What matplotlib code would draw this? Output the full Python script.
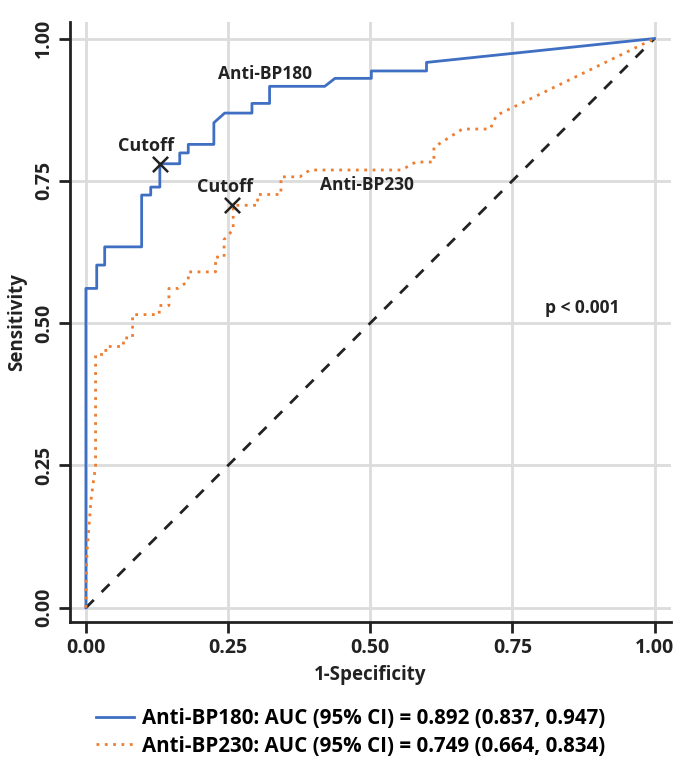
import matplotlib
matplotlib.use("Agg")
import matplotlib.pyplot as plt

# ROC curve vertices (1-specificity, sensitivity)
bp180_fpr = [0, 0, 0.019, 0.019, 0.033, 0.033, 0.098, 0.098, 0.114, 0.114, 0.130, 0.130,
             0.165, 0.165, 0.180, 0.180, 0.225, 0.225, 0.244, 0.292, 0.292, 0.323, 0.323,
             0.420, 0.438, 0.502, 0.502, 0.599, 0.599, 1.0]
bp180_tpr = [0, 0.561, 0.561, 0.602, 0.602, 0.634, 0.634, 0.725, 0.725, 0.739, 0.739, 0.780,
             0.780, 0.799, 0.799, 0.814, 0.814, 0.852, 0.869, 0.869, 0.886, 0.886, 0.916,
             0.916, 0.930, 0.930, 0.943, 0.943, 0.958, 1.0]

bp230_fpr = [0, 0, 0.002, 0.009, 0.017, 0.017, 0.035, 0.035, 0.066, 0.066, 0.082, 0.082,
             0.129, 0.129, 0.146, 0.146, 0.162, 0.180, 0.180, 0.228, 0.228, 0.243, 0.243,
             0.259, 0.259, 0.302, 0.302, 0.343, 0.343, 0.376, 0.394, 0.555, 0.580, 0.612,
             0.612, 0.662, 0.711, 0.722, 1.0]
bp230_tpr = [0, 0.04, 0.10, 0.19, 0.25, 0.445, 0.445, 0.459, 0.459, 0.474, 0.474, 0.515,
             0.515, 0.531, 0.531, 0.561, 0.561, 0.574, 0.590, 0.590, 0.616, 0.616, 0.647,
             0.664, 0.707, 0.707, 0.726, 0.726, 0.757, 0.757, 0.769, 0.769, 0.783, 0.783,
             0.809, 0.841, 0.841, 0.865, 1.0]

cutoff_fpr = [0.130, 0.257]
cutoff_tpr = [0.780, 0.707]

ticks = [0.0, 0.25, 0.5, 0.75, 1.0]
tick_labels = ['0.00', '0.25', '0.50', '0.75', '1.00']

legend_labels = ['Anti-BP180: AUC (95% CI) = 0.892 (0.837, 0.947)',
                 'Anti-BP230: AUC (95% CI) = 0.749 (0.664, 0.834)']

plt.rcParams['font.family'] = ['Open Sans', 'DejaVu Sans']
plt.rcParams['font.weight'] = 'bold'

blue = '#3f6fc2'
orange = '#ed7d31'
ink = '#222222'

fig = plt.figure(figsize=(6.76, 7.58), dpi=100)
ax = fig.add_axes([70 / 676, (758 - 622) / 758, 601 / 676, 600 / 758])

ax.plot(bp180_fpr, bp180_tpr, color=blue, lw=2, label=legend_labels[0], zorder=3)
ax.plot(bp230_fpr, bp230_tpr, color=orange, lw=2, ls=(0, (1, 2)), label=legend_labels[1], zorder=3)
ax.plot([0, 1], [0, 1], color=ink, lw=2, ls=(0, (4, 4)), zorder=2)
ax.scatter(cutoff_fpr, cutoff_tpr, marker='x', s=120, color=ink, linewidths=1.8, zorder=4)

ax.text(cutoff_fpr[0] - 0.025, cutoff_tpr[0] + 0.032, 'Cutoff', ha='center', va='center', fontsize=13, weight='bold', color=ink)
ax.text(cutoff_fpr[1] - 0.012, cutoff_tpr[1] + 0.033, 'Cutoff', ha='center', va='center', fontsize=13, weight='bold', color=ink)
ax.text(0.315, 0.938, 'Anti-BP180', ha='center', va='center', fontsize=12.5, weight='bold', color=ink)
ax.text(0.495, 0.742, 'Anti-BP230', ha='center', va='center', fontsize=12.5, weight='bold', color=ink)
ax.text(0.873, 0.526, 'p < 0.001', ha='center', va='center', fontsize=12.5, weight='bold', color=ink)

ax.set_xlim(-0.028, 1.029)
ax.set_ylim(-0.025, 1.029)
ax.set_xticks(ticks)
ax.set_xticklabels(tick_labels)
ax.set_yticks(ticks)
ax.set_yticklabels(tick_labels, rotation=90, va='center')
ax.grid(True, color='#dcdcdc', lw=2)
ax.set_axisbelow(True)
for s in ['top', 'right']:
    ax.spines[s].set_visible(False)
for s in ['left', 'bottom']:
    ax.spines[s].set_linewidth(2)
    ax.spines[s].set_color(ink)
ax.tick_params(length=8, width=2, color=ink, labelsize=14, labelcolor=ink)
ax.set_xlabel('1-Specificity', fontsize=13.5, weight='bold', color=ink, labelpad=5)
ax.set_ylabel('Sensitivity', fontsize=13.5, weight='bold', color=ink, labelpad=5)

fig.legend(loc='upper left', bbox_to_anchor=(96 / 676, 1 - 708 / 758), frameon=False,
           borderpad=0, borderaxespad=0,
           handlelength=1.85, handletextpad=0.4, labelspacing=0.32,
           prop={'weight': 'bold', 'size': 14.8})

fig.savefig('out.png', dpi=100)
